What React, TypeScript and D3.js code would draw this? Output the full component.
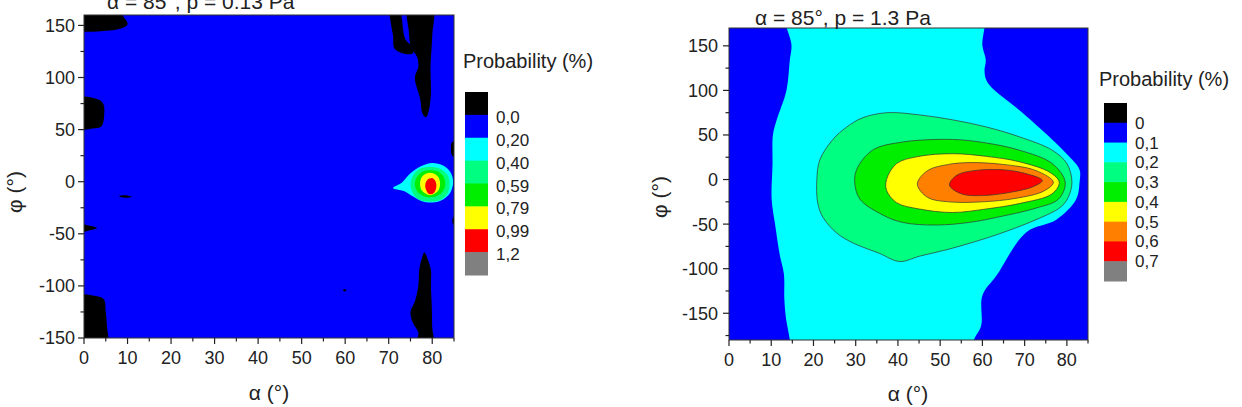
import React from "react";
import * as d3 from "d3";

type Pt = [number, number];

// ---------- axes / ticks ----------
const alphaTicks = [0, 10, 20, 30, 40, 50, 60, 70, 80];
const alphaMinor = [5, 15, 25, 35, 45, 55, 65, 75, 85];
const phiTicks = [-150, -100, -50, 0, 50, 100, 150];
const phiMinorLeft = [-125, -75, -25, 25, 75, 125];
const phiMinorRight = [-175, -125, -75, -25, 25, 75, 125];
const phiDomainLeft: Pt = [-150, 160];
const phiDomainRight: Pt = [-180, 170];

const titleLeft = "α = 85°, p = 0.13 Pa";
const titleRight = "α = 85°, p = 1.3 Pa";
const legendTitle = "Probability (%)";
const legendLeftLabels = ["0,0", "0,20", "0,40", "0,59", "0,79", "0,99", "1,2"];
const legendRightLabels = ["0", "0,1", "0,2", "0,3", "0,4", "0,5", "0,6", "0,7"];

// ---------- colours ----------
const BLACK = "#000000", BLUE = "#0000FF", CYAN = "#00FFFF", SEA = "#00FF80",
  GREEN = "#00EE00", YELLOW = "#FFFF00", ORANGE = "#FF8000", RED = "#FF0000", GRAY = "#808080";
const legendLeftColors = [BLACK, BLUE, CYAN, SEA, GREEN, YELLOW, RED, GRAY];
const legendRightColors = [BLACK, BLUE, CYAN, SEA, GREEN, YELLOW, ORANGE, RED, GRAY];

// ---------- p = 0.13 Pa : contour regions [alpha, phi] ----------
const lowBlackTopLeft: Pt[] = [[-2, 166], [7, 166], [9.5, 156], [10, 151], [8, 146.5], [4, 144.5], [0, 144], [-2, 144]];
const lowBlackLeftMid: Pt[] = [[-2, 80], [3, 79.5], [4.4, 75], [4.6, 62], [4, 53], [2, 51], [-2, 51]];
const lowBlackSpike: Pt[] = [[-2, -41], [1, -42], [3, -44.5], [1, -47], [-2, -49]];
const lowBlackBottomLeft: Pt[] = [[-2, -110], [3, -110], [4.6, -113], [5, -125], [5.3, -140], [5.3, -156], [-2, -156]];
const lowBlackStrip: Pt[] = [[74.5, 166], [80, 166], [80, 140], [79.6, 110], [79.7, 85], [79.3, 70], [78.6, 62], [77.8, 65], [77.2, 80], [76, 100], [76.8, 110], [76.5, 120], [75.2, 128], [74.6, 145]];
const lowBlackWedge: Pt[] = [[70.3, 166], [72.3, 166], [73.8, 137], [75.5, 129], [75.5, 123], [73, 123.5], [71.3, 128], [71, 140], [70.5, 152]];
const lowBlackEdgeA: Pt[] = [[86, 41], [84.6, 38], [84.3, 32], [84.6, 25], [86, 24]];
const lowBlackEdgeB: Pt[] = [[86, -30], [84.8, -34], [84.7, -40], [86, -45]];
const lowBlackBottomRight: Pt[] = [[78.2, -68], [79, -75], [79.7, -85], [79.7, -100], [79.9, -120], [80, -140], [80.2, -156], [76.5, -156], [76.8, -145], [75.5, -135], [75, -125], [76, -115], [76.8, -100], [77, -85], [77.5, -75]];
const lowBlackDash: Pt[] = [[8, -14], [9.5, -13], [11, -14.5], [9.5, -15.5]];
const lowBlackSpeck: Pt[] = [[59.6, -103.5], [60.2, -103.5], [60.2, -105], [59.6, -105]];

const lowPeakCyan: Pt[] = [[71, -6], [73, -1], [75, 8], [77.5, 15], [80, 18], [82.5, 15.5], [84.2, 9], [84.8, 0], [84.2, -10], [82.5, -17], [80, -20], [77.5, -18.5], [75.5, -14], [73.5, -9]];
const lowPeakSea: Pt[] = [[75, -3], [75.6, 6], [77, 12], [79.5, 14], [82, 12], [83.6, 6], [84, -3], [83.4, -12], [81.8, -17.5], [79.5, -19], [77.2, -17.5], [75.7, -12]];
const lowPeakGreen: Pt[] = [[76, -2], [76.6, 5.5], [78, 10], [79.5, 11], [81.2, 10], [82.5, 5.5], [83, -2], [82.5, -9], [81.2, -13.5], [79.5, -15], [77.8, -13.5], [76.5, -9]];
const lowPeakYellow: Pt[] = [[77.2, -2], [77.7, 5], [79.5, 8.5], [81.3, 5], [81.8, -2], [81.3, -9], [79.5, -13], [77.7, -9]];
const lowPeakRed: Pt[] = [[78.4, -3], [78.9, 2], [80, 3.5], [80.8, 0], [80.9, -6], [80.3, -11], [79.3, -12], [78.6, -8]];

// ---------- p = 1.3 Pa : contour regions [alpha, phi] ----------
const highCyan: Pt[] = [[13.6, 195], [14.8, 150], [14.4, 134], [13.6, 100], [11.3, 67], [10.4, 50], [10.3, 17], [10.1, -22], [10.9, -50], [12, -84], [13, -106], [13.1, -134], [13.5, -156], [14.4, -180], [14.8, -198], [57.5, -198], [58, -180], [59.7, -164], [60, -130], [63.3, -108], [70.4, -59], [77.5, -45], [82.2, -22], [83, -3], [83, 11], [80.5, 26], [76.5, 45], [68.7, 78], [62, 104], [60.8, 113], [60.5, 123], [60.8, 134], [60, 150], [59.7, 195]];
const highSea: Pt[] = [[37.3, 75], [45.1, 72.5], [52.9, 67], [60.9, 59], [68.7, 48], [76.5, 33], [80, 18], [81.2, -3], [80.3, -20], [78.5, -31], [72.7, -45], [63.3, -62], [52.9, -77], [45.1, -86], [40.4, -92], [35.7, -83], [29.3, -71], [25.5, -60], [22.2, -42], [21, -26], [20.8, 0], [21.5, 22], [24.6, 45], [27.9, 59], [31.5, 69]];
const highGreen: Pt[] = [[30.2, 11], [34, 33], [41, 42], [52.9, 45], [60.9, 41], [68.7, 33], [76.5, 18], [79.6, -3], [78, -22], [72.7, -32], [64.8, -41], [57, -48], [49, -51], [41, -48], [35.7, -38], [31, -22], [29.8, -5]];
const highYellow: Pt[] = [[37.3, 0], [39.7, 18], [45, 26], [52.9, 29], [60.9, 26], [68.7, 20], [76, 8], [78.2, -3], [76.5, -16], [68.7, -27], [60.9, -33], [52.9, -37], [45, -33], [39.7, -26], [37.3, -12]];
const highOrange: Pt[] = [[44.6, -5], [47, 10], [52, 17], [57, 19], [64.8, 17], [72.7, 10], [76.8, -3], [74.5, -13], [68, -21], [60, -25], [52, -25], [47, -20]];
const highRed: Pt[] = [[52.2, -6], [54, 5], [58, 10], [64.8, 11], [70, 7], [74.2, -1], [72, -8], [67, -14], [60, -18], [55, -16]];

type Region = { pts: Pt[]; fill: string; stroke?: string };

const leftRegions: Region[] = [
  ...[lowBlackTopLeft, lowBlackLeftMid, lowBlackSpike, lowBlackBottomLeft, lowBlackStrip, lowBlackWedge,
    lowBlackEdgeA, lowBlackEdgeB, lowBlackBottomRight, lowBlackDash, lowBlackSpeck].map((p) => ({ pts: p, fill: BLACK })),
  { pts: lowPeakCyan, fill: CYAN },
  { pts: lowPeakSea, fill: SEA },
  { pts: lowPeakGreen, fill: GREEN },
  { pts: lowPeakYellow, fill: YELLOW },
  { pts: lowPeakRed, fill: RED },
];

const rightRegions: Region[] = [
  { pts: highCyan, fill: CYAN },
  { pts: highSea, fill: SEA, stroke: "#333" },
  { pts: highGreen, fill: GREEN, stroke: "#333" },
  { pts: highYellow, fill: YELLOW, stroke: "#333" },
  { pts: highOrange, fill: ORANGE, stroke: "#333" },
  { pts: highRed, fill: RED, stroke: "#333" },
];

const FONT = "'Liberation Sans', Arial, sans-serif";

type PanelProps = {
  id: string;
  x0: number; x1: number; y0: number; y1: number;
  phiDomain: Pt;
  phiMinor: number[];
  regions: Region[];
  title: string; titleX: number; titleY: number;
  xTickY: number; yTickX: number; xTitleX: number; xTitleY: number; yTitleX: number; yTitleY: number;
  legendX: number; legendY0: number; legendY1: number; legendColors: string[]; legendLabels: string[];
  legendTitleX: number; legendTitleY: number; legendLabelDy: number;
};

function Panel(p: PanelProps) {
  const x = d3.scaleLinear().domain([0, 85]).range([p.x0, p.x1]);
  const y = d3.scaleLinear().domain(p.phiDomain).range([p.y1, p.y0]);
  const line = d3.line<Pt>().x((d) => x(d[0])).y((d) => y(d[1])).curve(d3.curveCatmullRomClosed.alpha(0.5));
  const legendBand = d3.scaleBand<number>().domain(d3.range(p.legendColors.length)).range([p.legendY0, p.legendY1]);
  const bw = legendBand.bandwidth();
  return (
    <g fontFamily={FONT} fill="#222">
      <defs>
        <clipPath id={p.id}>
          <rect x={p.x0} y={p.y0} width={p.x1 - p.x0} height={p.y1 - p.y0} />
        </clipPath>
      </defs>
      <g clipPath={`url(#${p.id})`}>
        <rect x={p.x0} y={p.y0} width={p.x1 - p.x0} height={p.y1 - p.y0} fill={BLUE} />
        {p.regions.map((r, i) => (
          <path key={i} d={line(r.pts) || ""} fill={r.fill} stroke={r.stroke || "none"} strokeWidth={0.7} />
        ))}
      </g>
      <rect x={p.x0} y={p.y0} width={p.x1 - p.x0} height={p.y1 - p.y0} fill="none" stroke="#333" strokeWidth={1} />
      {/* x ticks */}
      {alphaTicks.map((t) => (
        <g key={"xt" + t}>
          <line x1={x(t)} x2={x(t)} y1={p.y1} y2={p.y1 + 6} stroke="#222" strokeWidth={1.2} />
          <text x={x(t)} y={p.xTickY} textAnchor="middle" fontSize={18}>{t}</text>
        </g>
      ))}
      {alphaMinor.map((t) => (
        <line key={"xm" + t} x1={x(t)} x2={x(t)} y1={p.y1} y2={p.y1 + 3.5} stroke="#222" strokeWidth={1.2} />
      ))}
      {/* y ticks */}
      {phiTicks.map((t) => (
        <g key={"yt" + t}>
          <line x1={p.x0 - 6} x2={p.x0} y1={y(t)} y2={y(t)} stroke="#222" strokeWidth={1.2} />
          <text x={p.yTickX} y={y(t)} dy="0.36em" textAnchor="end" fontSize={18}>{t}</text>
        </g>
      ))}
      {p.phiMinor.map((t) => (
        <line key={"ym" + t} x1={p.x0 - 3.5} x2={p.x0} y1={y(t)} y2={y(t)} stroke="#222" strokeWidth={1.2} />
      ))}
      <text x={p.titleX} y={p.titleY} fontSize={21}>{p.title}</text>
      <text x={p.xTitleX} y={p.xTitleY} textAnchor="middle" fontSize={21}>α (°)</text>
      <text transform={`translate(${p.yTitleX},${p.yTitleY}) rotate(-90)`} textAnchor="middle" dy="0.35em" fontSize={21}>φ (°)</text>
      {/* legend */}
      <text x={p.legendTitleX} y={p.legendTitleY} fontSize={20}>{legendTitle}</text>
      {p.legendColors.map((c, i) => (
        <rect key={"lc" + i} x={p.legendX} y={legendBand(i)} width={23} height={bw + 0.5} fill={c} />
      ))}
      {p.legendLabels.map((l, i) => (
        <text key={"ll" + i} x={p.legendX + 31} y={(legendBand(i) as number) + bw} dy={p.legendLabelDy} fontSize={17}>{l}</text>
      ))}
    </g>
  );
}

export default function App() {
  return (
    <svg width={1242} height={407} style={{ position: "absolute", left: 0, top: 0, background: "#fff" }}>
      <Panel
        id="clipL" x0={84} x1={454} y0={15} y1={338} phiDomain={phiDomainLeft} phiMinor={phiMinorLeft}
        regions={leftRegions} title={titleLeft} titleX={107} titleY={9}
        xTickY={364} yTickX={75} xTitleX={269} xTitleY={400} yTitleX={15} yTitleY={192}
        legendX={465} legendY0={92} legendY1={275} legendColors={legendLeftColors} legendLabels={legendLeftLabels}
        legendTitleX={463} legendTitleY={68} legendLabelDy={8}
      />
      <Panel
        id="clipR" x0={729} x1={1088} y0={28} y1={340} phiDomain={phiDomainRight} phiMinor={phiMinorRight}
        regions={rightRegions} title={titleRight} titleX={755} titleY={25}
        xTickY={366} yTickX={718} xTitleX={908} xTitleY={401} yTitleX={660} yTitleY={197}
        legendX={1104} legendY0={103} legendY1={281} legendColors={legendRightColors} legendLabels={legendRightLabels}
        legendTitleX={1099} legendTitleY={86} legendLabelDy={6}
      />
    </svg>
  );
}
